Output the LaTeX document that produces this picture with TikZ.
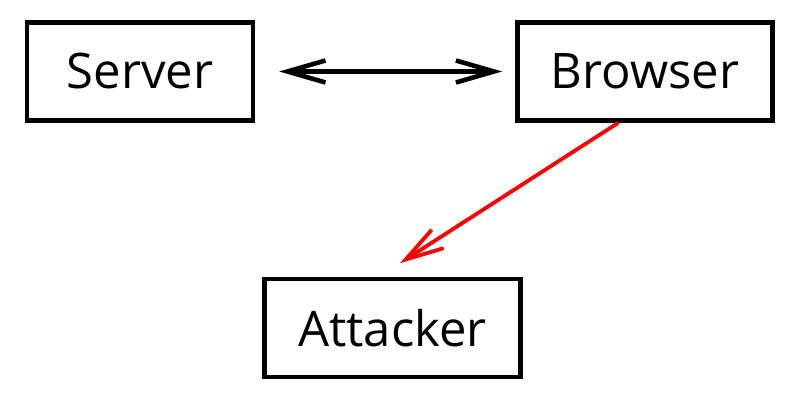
\documentclass[tikz,border=0pt]{standalone}
\usepackage{fontspec}
\setmainfont{Open Sans}
\usetikzlibrary{positioning,calc,arrows.meta}

\begin{document}
\begin{tikzpicture}[font=\fontsize{24.5pt}{30pt}\selectfont,
      box/.style={rectangle, draw=black, line width=2.2pt, minimum height=49pt},
      link/.style={line width=2.3pt, {Straight Barb[length=19pt,width=11pt]}-{Straight Barb[length=19pt,width=11pt]}},
      leak/.style={draw=red, line width=1.9pt, -{Straight Barb[length=19pt,width=11pt]}}]
      \useasboundingbox (0,0) rectangle (400pt,-200pt);

      \node[box, minimum width=113pt, name=server] at (70pt,-35.75pt) {Server};
      \node[box, minimum width=127.5pt, name=browser, right=130pt of server] {Browser};
      \coordinate (mid) at ($(server)!0.5!(browser)$);
      \node[box, minimum width=128pt, name=attacker, below=102.6pt of mid] {Attacker};

      \draw[link, shorten <=12pt, shorten >=6.5pt] (server) -- (browser);
      \draw[leak] ([xshift=-13.25pt]browser.south) -- ([shift={(3.75pt,6.75pt)}]attacker.north);
   \end{tikzpicture}
\end{document}
